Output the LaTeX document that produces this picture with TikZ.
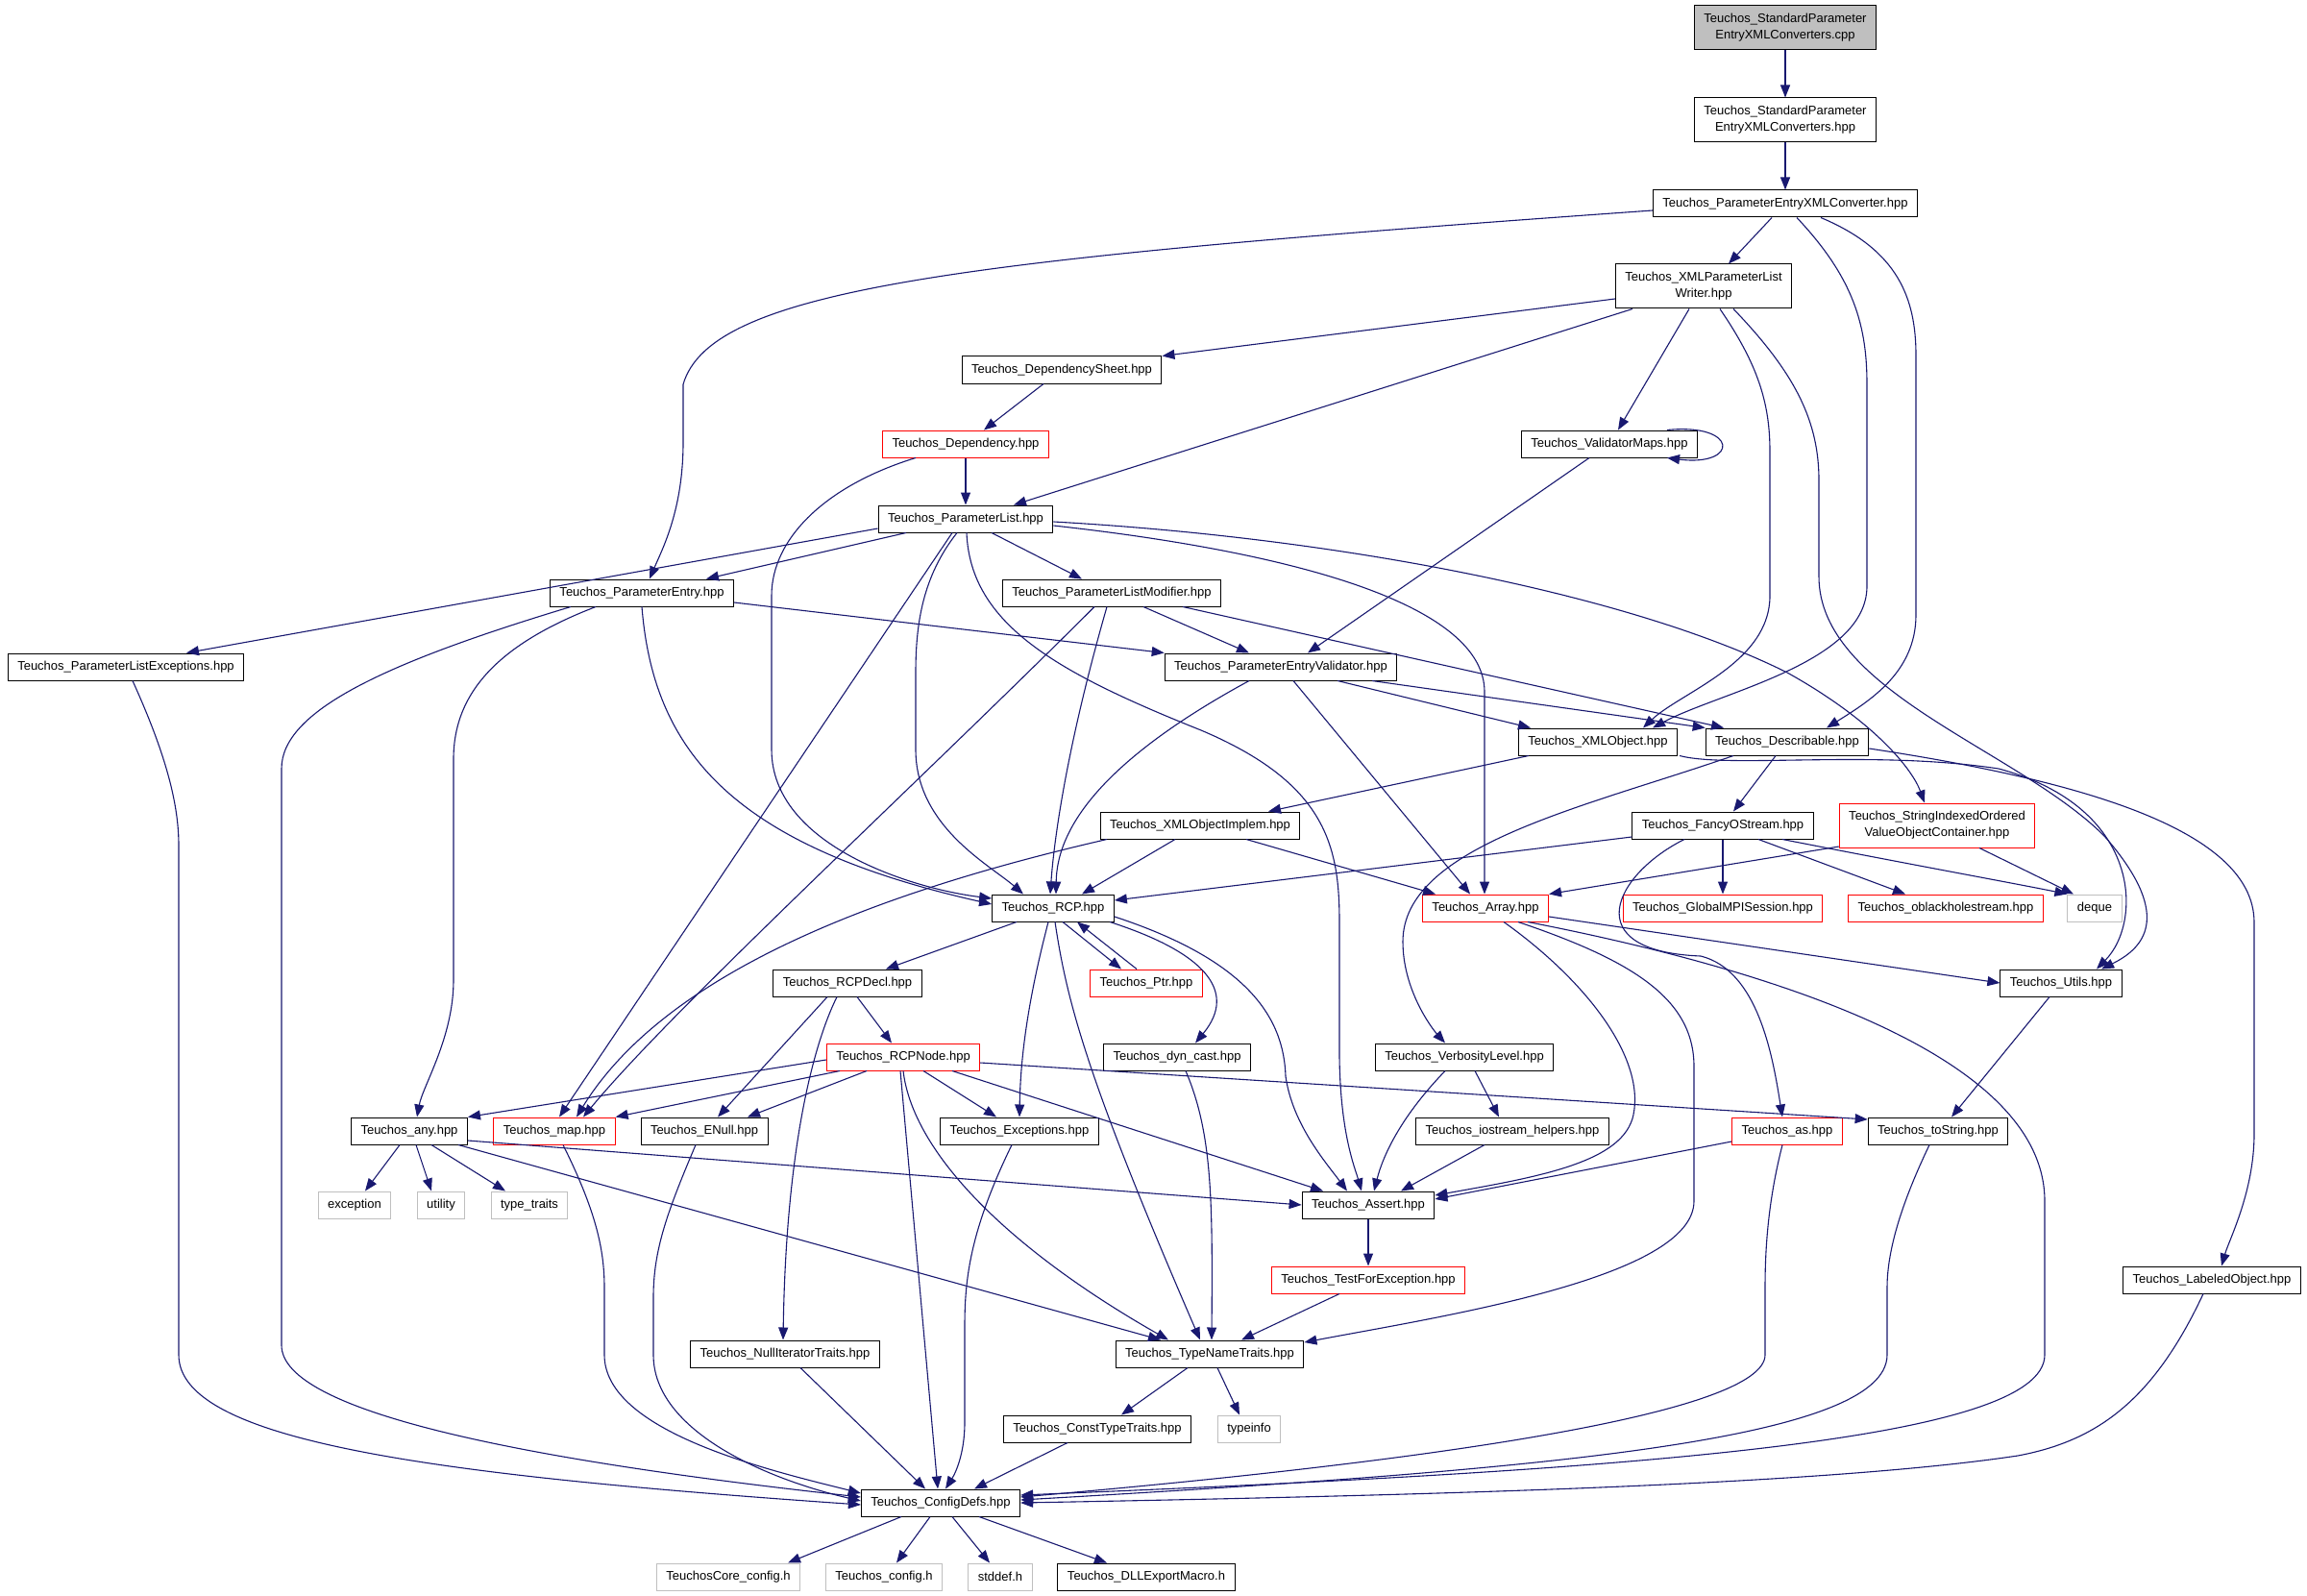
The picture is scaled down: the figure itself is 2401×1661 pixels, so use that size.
\documentclass[tikz,border=0pt]{standalone}
\usepackage{fontspec}
\setmainfont{Liberation Sans}
\usepackage{tikz}
\usetikzlibrary{arrows.meta}
\definecolor{edgeblue}{RGB}{25,25,112}
\definecolor{sysgray}{RGB}{191,191,191}

\begin{document}
\begin{tikzpicture}[x=1pt, y=-1pt,
    hdr/.style={draw=black, line width=1pt, fill=white, rectangle, inner xsep=10pt, inner ysep=3pt,
                minimum height=28pt, align=center, font=\fontsize{13pt}{17pt}\selectfont},
    twoline/.style={minimum height=46pt},
    redhdr/.style={hdr, draw=red},
    syshdr/.style={hdr, draw=sysgray},
    curfile/.style={hdr, twoline, fill=sysgray},
    incl/.style={draw=edgeblue, line width=1.1pt, -{Triangle[length=13pt,width=10pt]}}]
    \fill[white] (0,0) rectangle (2401,1661);

    \node (cpp) [curfile] at (1858,29) {Teuchos\_StandardParameter\\EntryXMLConverters.cpp};
    \node (spexc) [hdr, twoline] at (1858,125) {Teuchos\_StandardParameter\\EntryXMLConverters.hpp};
    \node (pexc) [hdr] at (1858,212) {Teuchos\_ParameterEntryXMLConverter.hpp};
    \node (writer) [hdr, twoline] at (1773,298) {Teuchos\_XMLParameterList\\Writer.hpp};
    \node (depsheet) [hdr] at (1105,385) {Teuchos\_DependencySheet.hpp};
    \node (dep) [redhdr] at (1005,462) {Teuchos\_Dependency.hpp};
    \node (valmaps) [hdr] at (1675,462) {Teuchos\_ValidatorMaps.hpp};
    \node (plist) [hdr] at (1005,540) {Teuchos\_ParameterList.hpp};
    \node (pentry) [hdr] at (668,617) {Teuchos\_ParameterEntry.hpp};
    \node (plmod) [hdr] at (1157,617) {Teuchos\_ParameterListModifier.hpp};
    \node (plexc) [hdr] at (131,694) {Teuchos\_ParameterListExceptions.hpp};
    \node (pev) [hdr] at (1333,694) {Teuchos\_ParameterEntryValidator.hpp};
    \node (xmlobj) [hdr] at (1663,772) {Teuchos\_XMLObject.hpp};
    \node (descr) [hdr] at (1860,772) {Teuchos\_Describable.hpp};
    \node (xmlimpl) [hdr] at (1249,859) {Teuchos\_XMLObjectImplem.hpp};
    \node (fancy) [hdr] at (1793,859) {Teuchos\_FancyOStream.hpp};
    \node (sioc) [redhdr, twoline] at (2016,859) {Teuchos\_StringIndexedOrdered\\ValueObjectContainer.hpp};
    \node (rcp) [hdr] at (1096,945) {Teuchos\_RCP.hpp};
    \node (array) [redhdr] at (1546,945) {Teuchos\_Array.hpp};
    \node (gmpi) [redhdr] at (1793,945) {Teuchos\_GlobalMPISession.hpp};
    \node (obh) [redhdr] at (2025,945) {Teuchos\_oblackholestream.hpp};
    \node (deque) [syshdr] at (2180,945) {deque};
    \node (rcpdecl) [hdr] at (882,1023) {Teuchos\_RCPDecl.hpp};
    \node (ptr) [redhdr] at (1193,1023) {Teuchos\_Ptr.hpp};
    \node (utils) [hdr] at (2145,1023) {Teuchos\_Utils.hpp};
    \node (rcpnode) [redhdr] at (940,1100) {Teuchos\_RCPNode.hpp};
    \node (dyncast) [hdr] at (1225,1100) {Teuchos\_dyn\_cast.hpp};
    \node (verb) [hdr] at (1524,1100) {Teuchos\_VerbosityLevel.hpp};
    \node (any) [hdr] at (426,1177) {Teuchos\_any.hpp};
    \node (map) [redhdr] at (577,1177) {Teuchos\_map.hpp};
    \node (enull) [hdr] at (733,1177) {Teuchos\_ENull.hpp};
    \node (exc) [hdr] at (1061,1177) {Teuchos\_Exceptions.hpp};
    \node (iohelp) [hdr] at (1574,1177) {Teuchos\_iostream\_helpers.hpp};
    \node (as) [redhdr] at (1860,1177) {Teuchos\_as.hpp};
    \node (tostr) [hdr] at (2017,1177) {Teuchos\_toString.hpp};
    \node (exception) [syshdr] at (369,1254) {exception};
    \node (utility) [syshdr] at (459,1254) {utility};
    \node (typetraits) [syshdr] at (551,1254) {type\_traits};
    \node (assert) [hdr] at (1424,1254) {Teuchos\_Assert.hpp};
    \node (tfe) [redhdr] at (1424,1332) {Teuchos\_TestForException.hpp};
    \node (labeled) [hdr] at (2302,1332) {Teuchos\_LabeledObject.hpp};
    \node (nullit) [hdr] at (817,1409) {Teuchos\_NullIteratorTraits.hpp};
    \node (tnt) [hdr] at (1259,1409) {Teuchos\_TypeNameTraits.hpp};
    \node (ctt) [hdr] at (1142,1487) {Teuchos\_ConstTypeTraits.hpp};
    \node (typeinfo) [syshdr] at (1300,1487) {typeinfo};
    \node (cfg) [hdr] at (979,1564) {Teuchos\_ConfigDefs.hpp};
    \node (corecfg) [syshdr] at (758,1641) {TeuchosCore\_config.h};
    \node (tcfg) [syshdr] at (920,1641) {Teuchos\_config.h};
    \node (stddef) [syshdr] at (1041,1641) {stddef.h};
    \node (dll) [hdr] at (1193,1641) {Teuchos\_DLLExportMacro.h};

    \draw[incl] (cpp) -- (spexc);
    \draw[incl] (spexc) -- (pexc);
    \draw[incl] ([yshift=-7pt]pexc.west) .. controls (1000,270) and (740,300) .. (711,400) -- (711,460) .. controls (711,530) and (690,570) .. ([xshift=8pt]pentry.north);
    \draw[incl] ([xshift=-14pt]pexc.south) -- ([xshift=26pt]writer.north);
    \draw[incl] ([xshift=12pt]pexc.south) .. controls (1930,290) and (1943,340) .. (1943,400) -- (1943,610) .. controls (1943,690) and (1790,720) .. ([xshift=57pt]xmlobj.north);
    \draw[incl] ([xshift=37pt]pexc.south) .. controls (1975,260) and (1994,310) .. (1994,370) -- (1994,640) .. controls (1994,700) and (1945,730) .. ([xshift=41pt]descr.north);
    \draw[incl] ([yshift=-13pt]writer.west) -- (depsheet.north east);
    \draw[incl] ([xshift=-74pt]writer.south) -- ([xshift=50pt]plist.north);
    \draw[incl] ([xshift=-15pt]writer.south) -- ([xshift=9pt]valmaps.north);
    \draw[incl] ([xshift=17pt]writer.south) .. controls (1830,380) and (1842,420) .. (1842,470) -- (1842,620) .. controls (1842,690) and (1750,720) .. ([xshift=47pt]xmlobj.north);
    \draw[incl] ([xshift=31pt]writer.south) .. controls (1870,390) and (1893,440) .. (1893,500) -- (1893,600) .. controls (1893,720) and (2100,780) .. (2190,870) .. controls (2260,950) and (2235,985) .. ([xshift=42pt]utils.north);
    \draw[incl] ([xshift=-19pt]depsheet.south) -- ([xshift=19pt]dep.north);
    \draw[incl] (dep) -- (plist);
    \draw[incl] ([xshift=-52pt]dep.south) .. controls (860,505) and (803,560) .. (803,620) -- (803,780) .. controls (803,880) and (950,925) .. ([yshift=10pt]rcp.west);
    \draw[incl] ([xshift=60pt]valmaps.north) .. controls (1810,440) and (1810,486) .. ([xshift=60pt]valmaps.south);
    \draw[incl] ([xshift=-21pt]valmaps.south) -- ([xshift=28pt]pev.north);
    \draw[incl] ([yshift=-10pt]plist.west) -- ([xshift=63pt]plexc.north);
    \draw[incl] ([xshift=-62pt]plist.south) -- ([xshift=67pt]pentry.north);
    \draw[incl] ([xshift=27pt]plist.south) -- ([xshift=-31pt]plmod.north);
    \draw[incl] ([xshift=-9pt]plist.south) .. controls (960,600) and (953,650) .. (953,700) -- (953,780) .. controls (953,860) and (1030,900) .. ([xshift=-31pt]rcp.north);
    \draw[incl] ([xshift=-14pt]plist.south) -- ([xshift=5pt]map.north);
    \draw[incl] ([xshift=1pt]plist.south) .. controls (1010,650) and (1100,700) .. (1250,760) .. controls (1380,815) and (1394,880) .. (1394,960) -- (1394,1100) .. controls (1395,1180) and (1410,1215) .. ([xshift=-7pt]assert.north);
    \draw[incl] ([yshift=-7pt]plist.east) .. controls (1350,575) and (1545,630) .. (1545,720) -- ([xshift=-1pt]array.north);
    \draw[incl] ([yshift=-3pt]plist.east) .. controls (1400,560) and (1700,620) .. (1860,700) .. controls (1950,750) and (1990,800) .. ([xshift=-13pt]sioc.north);
    \draw[incl] ([yshift=-10pt]pentry.east) -- (pev.north west);
    \draw[incl] (pentry.south) .. controls (680,780) and (760,880) .. ([yshift=4pt]rcp.west);
    \draw[incl] ([xshift=-48pt]pentry.south) .. controls (520,670) and (472,720) .. (472,790) -- (472,1020) .. controls (472,1080) and (440,1130) .. ([xshift=8pt]any.north);
    \draw[incl] ([xshift=-74pt]pentry.south) .. controls (400,690) and (293,740) .. (293,800) -- (293,1400) .. controls (293,1470) and (550,1520) .. ([yshift=6pt]cfg.west);
    \draw[incl] ([xshift=7pt]plexc.south) .. controls (175,790) and (186,840) .. (186,880) -- (186,1410) .. controls (186,1500) and (450,1535) .. ([yshift=-2pt]cfg.west);
    \draw[incl] ([xshift=33pt]plmod.south) -- ([xshift=-33pt]pev.north);
    \draw[incl] ([xshift=-5pt]plmod.south) .. controls (1115,760) and (1098,860) .. ([xshift=-3pt]rcp.north);
    \draw[incl] ([xshift=-18pt]plmod.south) .. controls (950,820) and (700,1050) .. ([xshift=30pt]map.north);
    \draw[incl] ([xshift=74pt]plmod.south) -- ([xshift=-66pt]descr.north);
    \draw[incl] ([xshift=-33pt]pev.south) .. controls (1150,790) and (1100,860) .. ([xshift=3pt]rcp.north);
    \draw[incl] ([xshift=13pt]pev.south) -- ([xshift=-16pt]array.north);
    \draw[incl] ([xshift=59pt]pev.south) -- ([xshift=-70pt]xmlobj.north);
    \draw[incl] ([xshift=95pt]pev.south) -- (descr.north west);
    \draw[incl] ([xshift=-72pt]xmlobj.south) -- ([xshift=71pt]xmlimpl.north);
    \draw[incl] ([xshift=85pt]xmlobj.south) .. controls (1800,800) and (1950,780) .. (2080,800) .. controls (2230,840) and (2230,960) .. ([xshift=37pt]utils.north);
    \draw[incl] ([xshift=-12pt]descr.south) -- ([xshift=11pt]fancy.north);
    \draw[incl] ([xshift=-56pt]descr.south) .. controls (1650,840) and (1460,880) .. (1460,980) .. controls (1460,1030) and (1490,1070) .. ([xshift=-20pt]verb.north);
    \draw[incl] ([yshift=-7pt]descr.east) .. controls (2150,810) and (2346,860) .. (2346,960) -- (2346,1180) .. controls (2346,1240) and (2320,1290) .. ([xshift=10pt]labeled.north);
    \draw[incl] ([xshift=-26pt]xmlimpl.south) -- ([xshift=30pt]rcp.north);
    \draw[incl] ([xshift=-97pt]xmlimpl.south) .. controls (950,920) and (700,1000) .. ([xshift=23pt]map.north);
    \draw[incl] ([xshift=48pt]xmlimpl.south) -- ([xshift=-52pt]array.north);
    \draw[incl] ([yshift=-12pt]fancy.west) -- ([yshift=8pt]rcp.east);
    \draw[incl] (fancy) -- (gmpi);
    \draw[incl] ([xshift=37pt]fancy.south) -- ([xshift=-42pt]obh.north);
    \draw[incl] ([xshift=62pt]fancy.south) .. controls (1990,900) and (2100,920) .. (deque.north west);
    \draw[incl] ([xshift=-40pt]fancy.south) .. controls (1680,910) and (1640,990) .. (1770,995) .. controls (1830,1010) and (1845,1100) .. ([xshift=-5pt]as.north);
    \draw[incl] ([yshift=-22pt]sioc.west) -- (array.north east);
    \draw[incl] ([xshift=44pt]sioc.south) -- ([xshift=-22pt]deque.north);
    \draw[incl] ([yshift=-9pt]array.east) -- (utils.west);
    \draw[incl] ([xshift=19pt]array.south) .. controls (1650,1020) and (1712,1100) .. (1700,1160) .. controls (1690,1210) and (1600,1225) .. ([yshift=10pt]assert.east);
    \draw[incl] ([xshift=34pt]array.south) .. controls (1700,1000) and (1763,1040) .. (1763,1110) -- (1763,1250) .. controls (1763,1330) and (1500,1370) .. ([yshift=12pt]tnt.east);
    \draw[incl] ([xshift=44pt]array.south) .. controls (1850,1010) and (2128,1100) .. (2128,1250) -- (2128,1410) .. controls (2128,1500) and (1700,1530) .. ([yshift=8pt]cfg.east);
    \draw[incl] ([xshift=-38pt]rcp.south) -- ([xshift=40pt]rcpdecl.north);
    \draw[incl] ([xshift=10pt]rcp.south) -- ([xshift=-26pt]ptr.north);
    \draw[incl] ([xshift=-10pt]ptr.north) -- ([xshift=25pt]rcp.south);
    \draw[incl] ([xshift=-5pt]rcp.south) .. controls (1070,1040) and (1062,1100) .. (exc.north);
    \draw[incl] ([xshift=2pt]rcp.south) .. controls (1110,1040) and (1130,1120) .. ([xshift=-10pt]tnt.north);
    \draw[incl] ([xshift=59pt]rcp.south) .. controls (1250,990) and (1290,1030) .. ([xshift=19pt]dyncast.north);
    \draw[incl] ([yshift=-9pt]rcp.east) .. controls (1300,1000) and (1336,1060) .. (1338,1120) .. controls (1345,1170) and (1380,1210) .. ([xshift=-22pt]assert.north);
    \draw[incl] ([xshift=10pt]rcpdecl.south) -- ([xshift=-12pt]rcpnode.north);
    \draw[incl] ([xshift=-21pt]rcpdecl.south) -- ([xshift=14pt]enull.north);
    \draw[incl] ([xshift=-11pt]rcpdecl.south) .. controls (845,1090) and (818,1200) .. ([xshift=-2pt]nullit.north);
    \draw[incl] ([yshift=-3pt]rcpnode.west) -- (any.north east);
    \draw[incl] ([xshift=-66pt]rcpnode.south) -- (map.north east);
    \draw[incl] ([xshift=-38pt]rcpnode.south) -- ([xshift=45pt]enull.north);
    \draw[incl] ([xshift=21pt]rcpnode.south) -- ([xshift=-24pt]exc.north);
    \draw[incl] ([xshift=51pt]rcpnode.south) -- ([xshift=-47pt]assert.north);
    \draw[incl] (rcpnode.south) .. controls (950,1200) and (1050,1300) .. ([xshift=-43pt]tnt.north);
    \draw[incl] ([xshift=-3pt]rcpnode.south) -- ([xshift=-3pt]cfg.north);
    \draw[incl] ([yshift=-6pt]rcpnode.east) -- ([yshift=12pt]tostr.west);
    \draw[incl] ([xshift=9pt]dyncast.south) .. controls (1262,1180) and (1262,1250) .. ([xshift=2pt]tnt.north);
    \draw[incl] ([xshift=-20pt]verb.south) .. controls (1460,1160) and (1440,1200) .. ([xshift=6pt]assert.north);
    \draw[incl] ([xshift=11pt]verb.south) -- ([xshift=-14pt]iohelp.north);
    \draw[incl] ([xshift=-29pt]iohelp.south) -- ([xshift=34pt]assert.north);
    \draw[incl] ([xshift=-10pt]any.south) -- ([xshift=11pt]exception.north);
    \draw[incl] ([xshift=7pt]any.south) -- ([xshift=-10pt]utility.north);
    \draw[incl] ([xshift=23pt]any.south) -- ([xshift=-25pt]typetraits.north);
    \draw[incl] ([yshift=-10pt]any.east) -- (assert.west);
    \draw[incl] ([xshift=51pt]any.south) -- ([xshift=-51pt]tnt.north);
    \draw[incl] ([xshift=9pt]map.south) .. controls (620,1260) and (629,1300) .. (629,1340) -- (629,1410) .. controls (629,1490) and (800,1530) .. ([yshift=10pt]cfg.west);
    \draw[incl] ([xshift=-9pt]enull.south) .. controls (695,1260) and (680,1300) .. (680,1350) -- (680,1410) .. controls (680,1490) and (800,1540) .. ([yshift=2pt]cfg.west);
    \draw[incl] ([xshift=-8pt]exc.south) .. controls (1010,1280) and (1004,1330) .. (1004,1380) -- (1004,1480) .. controls (1004,1520) and (990,1540) .. ([xshift=5pt]cfg.north);
    \draw[incl] ([xshift=16pt]nullit.south) -- ([xshift=-16pt]cfg.north);
    \draw[incl] (assert) -- (tfe);
    \draw[incl] ([xshift=-30pt]tfe.south) -- ([xshift=33pt]tnt.north);
    \draw[incl] ([xshift=-23pt]tnt.south) -- ([xshift=25pt]ctt.north);
    \draw[incl] ([xshift=8pt]tnt.south) -- ([xshift=-10pt]typeinfo.north);
    \draw[incl] ([xshift=-31pt]ctt.south) -- ([xshift=35pt]cfg.north);
    \draw[incl] ([yshift=-11pt]as.west) -- ([yshift=6pt]assert.east);
    \draw[incl] ([xshift=-5pt]as.south) .. controls (1840,1250) and (1837,1300) .. (1837,1340) -- (1837,1410) .. controls (1837,1470) and (1500,1520) .. ([yshift=6pt]cfg.east);
    \draw[incl] ([xshift=-9pt]tostr.south) .. controls (1980,1250) and (1964,1300) .. (1964,1340) -- (1964,1410) .. controls (1964,1500) and (1600,1530) .. ([yshift=3pt]cfg.east);
    \draw[incl] ([xshift=-12pt]utils.south) -- ([xshift=14pt]tostr.north);
    \draw[incl] ([xshift=-9pt]labeled.south) .. controls (2240,1460) and (2180,1500) .. (2100,1515) .. controls (1900,1545) and (1500,1556) .. (cfg.east);
    \draw[incl] ([xshift=-41pt]cfg.south) -- ([xshift=62pt]corecfg.north);
    \draw[incl] ([xshift=-11pt]cfg.south) -- ([xshift=13pt]tcfg.north);
    \draw[incl] ([xshift=12pt]cfg.south) -- ([xshift=-11pt]stddef.north);
    \draw[incl] ([xshift=40pt]cfg.south) -- ([xshift=-41pt]dll.north);
\end{tikzpicture}
\end{document}
